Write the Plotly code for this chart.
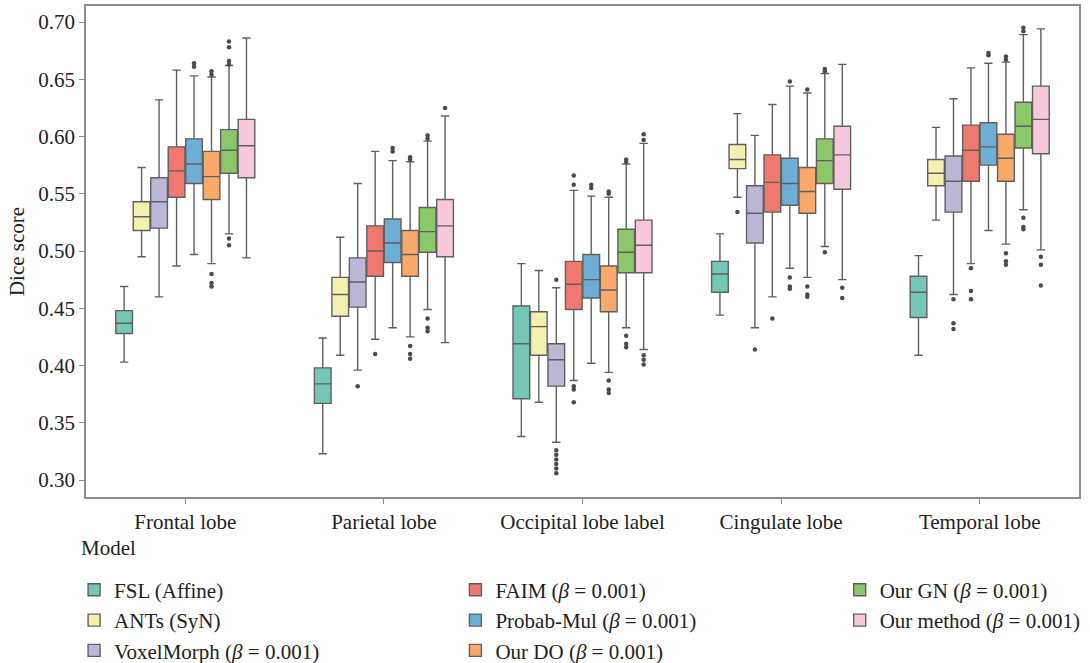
import plotly.graph_objects as go

GROUPS = ["Frontal lobe", "Parietal lobe", "Occipital lobe label", "Cingulate lobe", "Temporal lobe"]
MODELS = ["FSL (Affine)", "ANTs (SyN)", "VoxelMorph (<i>β</i> = 0.001)", "FAIM (<i>β</i> = 0.001)",
          "Probab-Mul (<i>β</i> = 0.001)", "Our DO (<i>β</i> = 0.001)", "Our GN (<i>β</i> = 0.001)",
          "Our method (<i>β</i> = 0.001)"]
COLORS = ["#74c6b6", "#f4f0b0", "#bdb7d6", "#f1786e", "#6eaed4", "#f9aa6a", "#8cc86a", "#f7c8dc"]

# per model: values for [Frontal, Parietal, Occipital, Cingulate, Temporal]
LOWER = [
    [0.403, 0.323, 0.338, 0.444, 0.409],
    [0.495, 0.409, 0.368, 0.547, 0.527],
    [0.460, 0.396, 0.333, 0.433, 0.462],
    [0.487, 0.423, 0.387, 0.460, 0.489],
    [0.497, 0.433, 0.402, 0.485, 0.518],
    [0.489, 0.425, 0.394, 0.477, 0.506],
    [0.515, 0.449, 0.433, 0.504, 0.536],
    [0.494, 0.420, 0.414, 0.475, 0.501],
]
Q1 = [
    [0.428, 0.367, 0.371, 0.464, 0.442],
    [0.518, 0.443, 0.409, 0.572, 0.557],
    [0.520, 0.451, 0.382, 0.507, 0.534],
    [0.547, 0.478, 0.449, 0.534, 0.561],
    [0.559, 0.490, 0.459, 0.540, 0.575],
    [0.545, 0.478, 0.447, 0.533, 0.561],
    [0.568, 0.499, 0.481, 0.559, 0.590],
    [0.564, 0.495, 0.481, 0.554, 0.585],
]
MEDIAN = [
    [0.437, 0.384, 0.419, 0.480, 0.464],
    [0.530, 0.462, 0.434, 0.580, 0.568],
    [0.543, 0.473, 0.405, 0.533, 0.561],
    [0.570, 0.500, 0.471, 0.560, 0.588],
    [0.576, 0.507, 0.475, 0.559, 0.591],
    [0.565, 0.497, 0.466, 0.552, 0.581],
    [0.588, 0.517, 0.499, 0.579, 0.609],
    [0.592, 0.522, 0.505, 0.584, 0.615],
]
Q3 = [
    [0.448, 0.398, 0.452, 0.491, 0.478],
    [0.543, 0.477, 0.447, 0.593, 0.580],
    [0.564, 0.494, 0.419, 0.557, 0.583],
    [0.591, 0.522, 0.491, 0.584, 0.610],
    [0.598, 0.528, 0.497, 0.581, 0.612],
    [0.587, 0.518, 0.487, 0.573, 0.602],
    [0.606, 0.538, 0.519, 0.598, 0.630],
    [0.615, 0.545, 0.527, 0.609, 0.644],
]
UPPER = [
    [0.469, 0.424, 0.489, 0.515, 0.496],
    [0.573, 0.512, 0.483, 0.620, 0.608],
    [0.632, 0.559, 0.468, 0.601, 0.633],
    [0.658, 0.587, 0.553, 0.628, 0.660],
    [0.653, 0.579, 0.548, 0.644, 0.664],
    [0.652, 0.578, 0.547, 0.638, 0.665],
    [0.662, 0.596, 0.576, 0.655, 0.689],
    [0.686, 0.618, 0.594, 0.663, 0.694],
]
OUTLIERS = [
    [[], [], [], [], []],
    [[], [], [], [0.534], []],
    [[], [0.382], [0.475, 0.326, 0.322, 0.318, 0.314, 0.310, 0.306], [0.414], [0.458, 0.437, 0.432]],
    [[], [0.410], [0.558, 0.566, 0.382, 0.379, 0.368], [0.441], [0.485, 0.465, 0.458]],
    [[0.664, 0.661], [0.590, 0.587], [0.558, 0.555], [0.648, 0.477, 0.469, 0.467], [0.673, 0.671]],
    [[0.657, 0.654, 0.480, 0.472, 0.469], [0.582, 0.580, 0.417, 0.410, 0.406],
     [0.552, 0.550, 0.387, 0.379, 0.376], [0.641, 0.469, 0.462, 0.460], [0.670, 0.667, 0.498, 0.491, 0.488]],
    [[0.683, 0.678, 0.666, 0.663, 0.511, 0.505], [0.601, 0.598, 0.441, 0.433, 0.430],
     [0.580, 0.578, 0.426, 0.419, 0.416], [0.659, 0.657, 0.499], [0.695, 0.692, 0.529, 0.521, 0.519]],
    [[], [0.625], [0.602, 0.597, 0.409, 0.405, 0.401], [0.468, 0.459], [0.495, 0.488, 0.470]],
]
Y_TICKS = [0.30, 0.35, 0.40, 0.45, 0.50, 0.55, 0.60, 0.65, 0.70]

FONT = "Liberation Serif"
FS = 21
PITCH = 0.088
BOXW = 0.084
LINE = "#606060"
n_models = len(MODELS)

fig = go.Figure()
legend_of = ["legend", "legend", "legend", "legend2", "legend2", "legend2", "legend3", "legend3"]
for m in range(n_models):
    xs = [g + (m - (n_models - 1) / 2) * PITCH for g in range(len(GROUPS))]
    fig.add_trace(go.Box(
        x=xs, q1=Q1[m], median=MEDIAN[m], q3=Q3[m],
        lowerfence=LOWER[m], upperfence=UPPER[m],
        width=BOXW, fillcolor=COLORS[m], whiskerwidth=0.5,
        line=dict(color=LINE, width=1.4), name=MODELS[m],
        legend=legend_of[m], legendgroup=MODELS[m], boxpoints=False,
    ))
    ox, oy = [], []
    for g in range(len(GROUPS)):
        for v in OUTLIERS[m][g]:
            ox.append(xs[g])
            oy.append(v)
    if ox:
        fig.add_trace(go.Scatter(
            x=ox, y=oy, mode="markers", showlegend=False,
            marker=dict(color="#4a4a4a", size=4.5, symbol="circle"),
            hoverinfo="y",
        ))

axis_common = dict(showline=True, linecolor="#8c8c8c", linewidth=1.5, mirror=True, automargin=False,
                   ticks="outside", tickcolor="#8c8c8c", ticklen=5, showgrid=False, zeroline=False,
                   tickfont=dict(family=FONT, size=FS, color="#222222"))
fig.update_xaxes(range=[-0.5, 4.5], tickvals=list(range(len(GROUPS))), ticktext=GROUPS, **axis_common)
fig.update_yaxes(range=[0.2852, 0.714], tickvals=Y_TICKS, ticktext=[f"{t:.2f}" for t in Y_TICKS],
                 title=dict(text="Dice score", font=dict(family=FONT, size=FS, color="#222222"), standoff=8),
                 **axis_common)

leg_common = dict(orientation="v", yanchor="top", xanchor="left", bgcolor="rgba(0,0,0,0)",
                  font=dict(family=FONT, size=FS, color="#222222"), tracegroupgap=0)
fig.update_layout(
    width=1090, height=663,
    margin=dict(l=86, r=11, t=6, b=166, autoexpand=False),
    paper_bgcolor="white", plot_bgcolor="white",
    boxmode="overlay",
    legend=dict(x=-0.012, y=-0.148, **leg_common),
    legend2=dict(x=0.372, y=-0.148, **leg_common),
    legend3=dict(x=0.759, y=-0.148, **leg_common),
    annotations=[dict(text="Model", xref="paper", yref="paper", x=-0.007, y=-0.104, xanchor="left",
                      yanchor="middle", showarrow=False, font=dict(family=FONT, size=FS, color="#222222"))],
)

fig.write_html("out.html", config={"displayModeBar": False},
               post_script="document.body.style.margin='0';document.body.style.overflow='hidden';")
